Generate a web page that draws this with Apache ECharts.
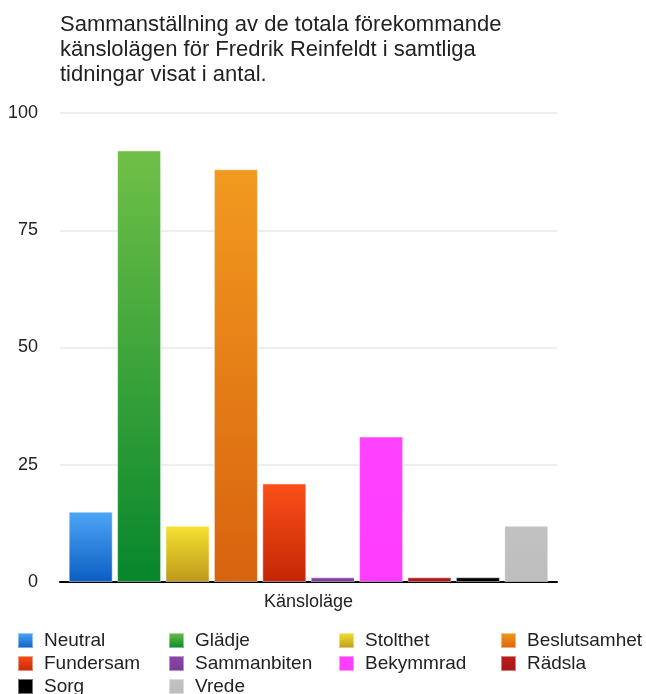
<!DOCTYPE html>
<html>
<head>
<meta charset="utf-8">
<script src="https://cdn.jsdelivr.net/npm/echarts@6/dist/echarts.min.js"></script>
<style>
  html, body { margin: 0; padding: 0; background: #fff; }
  #chart { width: 646px; height: 694px; }
</style>
</head>
<body>
<div id="chart"></div>
<script>
// data
const category = ['Känsloläge']
const names = ['Neutral', 'Glädje', 'Stolthet', 'Beslutsamhet', 'Fundersam',
  'Sammanbiten', 'Bekymmrad', 'Rädsla', 'Sorg', 'Vrede']
const values = [15, 92, 12, 88, 21, 1, 31, 1, 1, 12]
const yTicks = [0, 25, 50, 75, 100]
// top / bottom colour of each bar gradient
const colorTop = ['#4ea6f6', '#70c048', '#f6e232', '#f29a20', '#fb5018',
  '#8a4aa8', '#ff42ff', '#b82020', '#000000', '#c2c2c2']
const colorBottom = ['#0a5ec4', '#07862c', '#bc981a', '#d8620e', '#c42606',
  '#7a3898', '#ff3cff', '#a81414', '#000000', '#bdbdbd']

const font = 'Liberation Sans, Arial, Helvetica, sans-serif'

const series = names.map((n, i) => ({
  name: n,
  type: 'bar',
  data: [values[i]],
  barWidth: 44,
  barGap: '10%',
  itemStyle: {
    color: new echarts.graphic.LinearGradient(0, 0, 0, 1, [
      { offset: 0, color: colorTop[i] },
      { offset: 1, color: colorBottom[i] }
    ]),
    borderColor: 'rgba(255,255,255,0.45)',
    borderWidth: 1
  }
}))

// one legend per item, laid out in 4 columns like the original
const colLeft = [12, 163, 333, 495]
const rowTop = [626, 649, 672]
const legends = names.map((n, i) => ({
  data: [n],
  left: colLeft[i % 4],
  top: rowTop[Math.floor(i / 4)],
  itemWidth: 15,
  itemHeight: 15,
  icon: 'rect',
  selectedMode: false,
  textStyle: { fontFamily: font, fontSize: 19, color: '#222', padding: [0, 0, 4, 6] }
}))

const chart = echarts.init(document.getElementById('chart'))
chart.setOption({
  animation: false,
  backgroundColor: '#fff',
  title: {
    text: 'Sammanställning av de totala förekommande\nkänslolägen för Fredrik Reinfeldt i samtliga\ntidningar visat i antal.',
    left: 55,
    top: 7,
    textStyle: { fontFamily: font, fontSize: 22, fontWeight: 'normal', color: '#222', lineHeight: 25 }
  },
  legend: legends,
  grid: { left: 60, right: 89, top: 113, bottom: 112 },
  xAxis: {
    type: 'category',
    data: category,
    axisLine: { lineStyle: { color: '#000', width: 2 } },
    axisTick: { show: false },
    axisLabel: { fontFamily: font, fontSize: 18, color: '#222', margin: 11 }
  },
  yAxis: {
    type: 'value',
    min: yTicks[0],
    max: yTicks[yTicks.length - 1],
    interval: 25,
    axisLine: { show: false },
    axisTick: { show: false },
    axisLabel: { fontFamily: font, fontSize: 18, color: '#222', margin: 22 },
    splitLine: { lineStyle: { color: '#e8e8e8', width: 1.5 } }
  },
  series: series
})
</script>
</body>
</html>
